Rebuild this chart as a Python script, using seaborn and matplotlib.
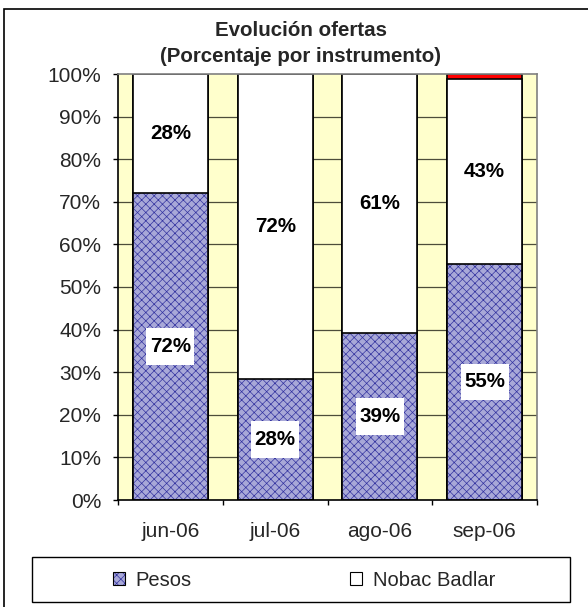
import matplotlib
matplotlib.use("Agg")
import matplotlib.pyplot as plt
import matplotlib.patches as mpatches
from matplotlib.path import Path
from matplotlib.colors import to_rgba
import seaborn as sns
import pandas as pd
import numpy as np

months = ["jun-06", "jul-06", "ago-06", "sep-06"]
pesos = [72.1, 28.4, 39.2, 55.4]
nobac = [27.9, 71.6, 60.8, 43.4]
otros = [0.0, 0.0, 0.0, 1.2]
pesos_labels = ["72%", "28%", "39%", "55%"]
nobac_labels = ["28%", "72%", "61%", "43%"]
yticks = [0, 10, 20, 30, 40, 50, 60, 70, 80, 90, 100]
ytick_labels = ["0%", "10%", "20%", "30%", "40%", "50%", "60%", "70%", "80%", "90%", "100%"]

sns.set_theme(style="white")
plt.rcParams["font.family"] = ["Liberation Sans", "DejaVu Sans"]
plt.rcParams["hatch.linewidth"] = 0.5

PESOS_FACE = "#a8a8d8"
PESOS_HATCH = "xxxx"
navy = to_rgba("#3333a0")

df = pd.DataFrame({"mes": months, "pesos": pesos, "nobac": nobac, "otros": otros})
df["c1"] = df["pesos"]
df["c2"] = df["pesos"] + df["nobac"]
df["c3"] = df["c2"] + df["otros"]

fig = plt.figure(figsize=(5.88, 6.07), dpi=100)
ax = fig.add_axes([118 / 588, 1 - 500 / 607, (537 - 118) / 588, (500 - 74) / 607])
ax.set_facecolor("#FFFFCC")

for y in yticks[1:-1]:
    ax.axhline(y, color="#4d4d3a", lw=0.9, zorder=0.5)

width = 1 / 1.4
sns.barplot(data=df, x="mes", y="c3", color="#FF0000", width=width, ax=ax,
            edgecolor="black", linewidth=1.2, saturation=1, zorder=2)
sns.barplot(data=df, x="mes", y="c2", color="#FFFFFF", width=width, ax=ax,
            edgecolor="black", linewidth=1.2, saturation=1, zorder=2)
n_before = len(ax.patches)
sns.barplot(data=df, x="mes", y="c1", color=PESOS_FACE, width=width, ax=ax,
            edgecolor="black", linewidth=1.2, saturation=1, zorder=2)
for p in ax.patches[n_before:]:
    p.set_hatch(PESOS_HATCH)
    p._hatch_color = navy


def label_box(x0, y0, width, height, mutation_size):
    padx = 0.17 * mutation_size
    pady = 0.42 * mutation_size
    x0, x1 = x0 - padx, x0 + width + padx
    y0, y1 = y0 - pady, y0 + height + pady
    return Path([(x0, y0), (x1, y0), (x1, y1), (x0, y1), (x0, y0)],
                [Path.MOVETO, Path.LINETO, Path.LINETO, Path.LINETO, Path.CLOSEPOLY])


for i in range(len(months)):
    for yv, lab in [(pesos[i] / 2, pesos_labels[i]), (pesos[i] + nobac[i] / 2, nobac_labels[i])]:
        t = ax.text(i, yv, lab, ha="center", va="center",
                    fontsize=14.8, fontweight="bold", color="black", zorder=5,
                    bbox=dict(facecolor="white", edgecolor="none", pad=0))
        t.get_bbox_patch().set_boxstyle(label_box)

ax.set_xlim(-0.5, len(months) - 0.5)
ax.set_ylim(0, 100)
ax.set_yticks(yticks)
ax.set_yticklabels(ytick_labels, fontsize=15)
ax.set_xticks(np.arange(-0.5, len(months), 1.0))
ax.set_xticklabels([])
ax.set_xticks(range(len(months)), minor=True)
ax.set_xticklabels(months, minor=True, fontsize=15)
ax.tick_params(axis="x", which="major", direction="out", length=3.6, width=1, color="black", bottom=True)
ax.tick_params(axis="x", which="minor", length=0, pad=16)
ax.tick_params(axis="y", direction="out", length=3.6, width=1, color="black", left=True, pad=8.6)
ax.set_xlabel("")
ax.set_ylabel("")
for side in ["left", "bottom"]:
    ax.spines[side].set_color("black")
    ax.spines[side].set_linewidth(1.2)
for side in ["top", "right"]:
    ax.spines[side].set_color("#808080")
    ax.spines[side].set_linewidth(1.2)
    ax.spines[side].set_visible(True)

fig.text(301 / 588, 1 - 36 / 607, "Evolución ofertas", ha="center", va="baseline",
         fontsize=14.8, fontweight="bold")
fig.text(300 / 588, 1 - 62 / 607, "(Porcentaje por instrumento)", ha="center", va="baseline",
         fontsize=14.8, fontweight="bold")

fig.patches.append(mpatches.Rectangle((4 / 588, -0.1), 1.2, 1 - 9 / 607 + 0.1,
                                      transform=fig.transFigure, fill=False,
                                      edgecolor="black", lw=1.2))

fig.patches.append(mpatches.Rectangle((32 / 588, 1 - 602 / 607), (570 - 32) / 588, 45 / 607,
                                      transform=fig.transFigure, fill=False,
                                      edgecolor="black", lw=1.0))
h1 = mpatches.Patch(facecolor=PESOS_FACE, edgecolor="black", hatch=PESOS_HATCH, lw=0.8, label="Pesos")
h1._hatch_color = navy
h2 = mpatches.Patch(facecolor="white", edgecolor="black", lw=0.8, label="Nobac Badlar")
leg = fig.legend(handles=[h1, h2], loc="center left", bbox_to_anchor=(113 / 588, 1 - 580 / 607),
                 ncol=2, frameon=False, fontsize=14.5, handlelength=0.6, handleheight=0.6,
                 handletextpad=0.5, columnspacing=7.9, borderpad=0, borderaxespad=0)
for h in leg.legend_handles:
    if h.get_hatch():
        h._hatch_color = navy

fig.savefig("out.png", dpi=100, facecolor="white")
